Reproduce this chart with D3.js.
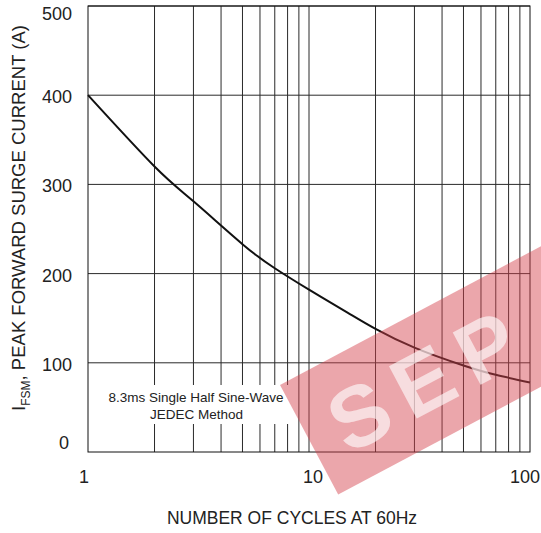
<!DOCTYPE html>
<html><head><meta charset="utf-8">
<script src="https://cdn.jsdelivr.net/npm/d3@7"></script>
<style>body{margin:0;background:#fff}svg{display:block}text{font-family:"Liberation Sans",Arial,sans-serif}</style>
</head><body>
<script>
const cycles  = [1, 2, 3, 5, 7, 10, 15, 20, 30, 50, 70, 100];
const current = [400, 320, 281, 233, 206, 182, 156, 138, 117, 97, 86.5, 78];
const yTicks = [0, 100, 200, 300, 400, 500];
const xTickLabels = [1, 10, 100];
const xMinor = [2,3,4,5,6,7,8,9,20,30,40,50,60,70,80,90];
const watermarkLetters = ["S", "E", "P"];

const W = 541, H = 533;
const svg = d3.select("body").append("svg").attr("width", W).attr("height", H);
const x = d3.scaleLog().domain([1, 100]).range([88, 530]);
const y = d3.scaleLinear().domain([0, 500]).range([452, 6]);

const grid = svg.append("g").attr("stroke", "#2a2a2a").attr("stroke-width", 1);
grid.selectAll("line.v").data(xMinor.concat([10])).enter().append("line")
  .attr("x1", d => x(d)).attr("x2", d => x(d)).attr("y1", y(500)).attr("y2", y(0));
grid.selectAll("line.h").data(yTicks.slice(1)).enter().append("line")
  .attr("x1", x(1)).attr("x2", x(100)).attr("y1", d => y(d)).attr("y2", d => y(d));
// annotation background (cuts the grid)
svg.append("rect").attr("x", 94).attr("y", 385).attr("width", 200).attr("height", 39).attr("fill", "#fff");

// frame
svg.append("rect").attr("x", x(1)).attr("y", y(500)).attr("width", x(100) - x(1)).attr("height", y(0) - y(500))
  .attr("fill", "none").attr("stroke", "#111").attr("stroke-width", 1);

// curve
svg.append("path").datum(cycles.map((c, i) => [c, current[i]]))
  .attr("fill", "none").attr("stroke", "#111").attr("stroke-width", 2)
  .attr("d", d3.line().x(d => x(d[0])).y(d => y(d[1])).curve(d3.curveNatural));

// y tick labels
svg.append("g").selectAll("text").data(yTicks).enter().append("text")
  .attr("x", d => d === 0 ? 69 : 72)
  .attr("y", d => d === 500 ? y(d) + 13.5 : d === 0 ? y(d) - 3 : y(d) + 8)
  .attr("text-anchor", "end").attr("font-size", 18).attr("fill", "#222").text(d => d);

// x tick labels
svg.append("g").selectAll("text").data(xTickLabels).enter().append("text")
  .attr("x", d => d === 1 ? 84 : d === 10 ? 313 : 525).attr("y", 483)
  .attr("text-anchor", "middle").attr("font-size", 18).attr("fill", "#222").text(d => d);

// axis titles
svg.append("text").attr("x", 292).attr("y", 524).attr("text-anchor", "middle")
  .attr("font-size", 17.5).attr("fill", "#222").text("NUMBER OF CYCLES AT 60Hz");
const yt = svg.append("text").attr("transform", "translate(25,218) rotate(-90)")
  .attr("text-anchor", "middle").attr("font-size", 18.5).attr("fill", "#222");
yt.append("tspan").text("I");
yt.append("tspan").attr("font-size", 12).attr("dy", 5).text("FSM");
yt.append("tspan").attr("dy", -5).text(", PEAK FORWARD SURGE CURRENT (A)");

// annotation
svg.append("text").attr("x", 196).attr("y", 402).attr("text-anchor", "middle")
  .attr("font-size", 13.5).attr("fill", "#222").text("8.3ms Single Half Sine-Wave");
svg.append("text").attr("x", 196.5).attr("y", 419).attr("text-anchor", "middle")
  .attr("font-size", 13.5).attr("fill", "#222").text("JEDEC Method");

// watermark
const wm = svg.append("g").attr("transform", "translate(280,385) rotate(-28)");
wm.append("rect").attr("x", 0).attr("y", 0).attr("width", 340).attr("height", 124)
  .attr("fill", "rgb(213,65,77)").attr("fill-opacity", 0.47);
wm.selectAll("text").data(watermarkLetters).enter().append("text")
  .attr("x", (d, i) => 56 + i * 72).attr("y", 94).attr("text-anchor", "middle")
  .attr("font-size", 86).attr("font-weight", "bold")
  .attr("fill", "#fff").attr("fill-opacity", 0.62).text(d => d);
</script>
</body></html>
